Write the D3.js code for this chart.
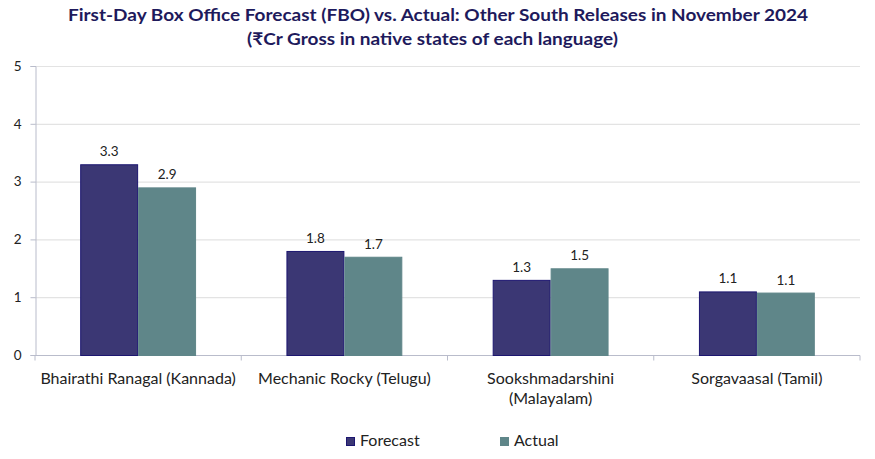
<!DOCTYPE html>
<html><head><meta charset="utf-8">
<script src="https://cdn.jsdelivr.net/npm/d3@7"></script>
<style>body{margin:0;background:#fff;} svg{display:block;font-family:Lato,"Open Sans",sans-serif;}</style>
</head><body>
<svg id="c" width="875" height="459"></svg>
<script>
const categories = [["Bhairathi Ranagal (Kannada)"],["Mechanic Rocky (Telugu)"],["Sookshmadarshini","(Malayalam)"],["Sorgavaasal (Tamil)"]];
const seriesNames = ["Forecast","Actual"];
const forecast = [3.3, 1.8, 1.3, 1.1];
const actual = [2.9, 1.7, 1.5, 1.08];
const yTicks = [0,1,2,3,4,5];
const colors = ["#3b3774","#5f8689"];
const strokes = ["#1c1670","#5f8689"];

const svg = d3.select("#c");
const mLeft = 35, mRight = 860, mTop = 66, mBottom = 355;
const x = d3.scaleBand().domain(d3.range(categories.length)).range([mLeft, mRight]);
const y = d3.scaleLinear().domain([0,5]).range([mBottom, mTop]);
const inner = d3.scaleBand().domain([0,1]).range([0, x.bandwidth()]).paddingOuter(0.78);

// title
const title = svg.append("text").attr("fill","#1e1a5c").attr("font-weight","bold").attr("font-size",17.5);
title.append("tspan").attr("x",68).attr("y",21).attr("textLength",740).attr("lengthAdjust","spacingAndGlyphs")
  .text("First-Day Box Office Forecast (FBO) vs. Actual: Other South Releases in November 2024");
title.append("tspan").attr("x",247).attr("y",45).attr("textLength",371).attr("lengthAdjust","spacingAndGlyphs")
  .text("(₹Cr Gross in native states of each language)");

// grid
svg.append("g").selectAll("line").data(yTicks.filter(d=>d>0)).join("line")
  .attr("x1",mLeft).attr("x2",mRight).attr("y1",d=>y(d)+0.5).attr("y2",d=>y(d)+0.5)
  .attr("stroke","#e3e3e3").attr("stroke-width",1.2);

// y axis
const ya = svg.append("g").attr("transform",`translate(${mLeft+0.5},0)`)
  .call(d3.axisLeft(y).tickValues(yTicks).tickSize(5).tickPadding(9).tickFormat(d3.format("d")));
ya.select(".domain").attr("stroke","#b9bccb");
ya.selectAll(".tick line").attr("stroke","#b9bccb");
ya.selectAll("text").attr("font-size",13.5).attr("fill","#222").attr("font-family","Lato,'Open Sans',sans-serif");

// x axis
const xa = svg.append("g").attr("transform",`translate(0,${mBottom+0.5})`);
xa.append("line").attr("x1",mLeft).attr("x2",mRight).attr("stroke","#b9bccb");
xa.selectAll("line.t").data(d3.range(categories.length+1)).join("line").attr("class","t")
  .attr("x1",d=>d<categories.length?x(d):mRight).attr("x2",d=>d<categories.length?x(d):mRight)
  .attr("y1",0).attr("y2",5).attr("stroke","#b9bccb");

const lbl = svg.append("g").selectAll("text").data(categories).join("text")
  .attr("text-anchor","middle").attr("font-size",16).attr("fill","#222");
lbl.each(function(d,i){
  const t=d3.select(this);
  d.forEach((s,j)=>t.append("tspan").attr("x",x(i)+x.bandwidth()/2).attr("y",384+j*20).text(s));
});

// bars
const data = [forecast, actual];
data.forEach((vals,s)=>{
  const g = svg.append("g");
  g.selectAll("rect").data(vals).join("rect")
    .attr("x",(d,i)=>x(i)+inner(s)+0.5).attr("width",inner.bandwidth()-1)
    .attr("y",d=>y(d)+0.5).attr("height",d=>mBottom-y(d))
    .attr("fill",colors[s]).attr("stroke",strokes[s]).attr("stroke-width",1);
  g.selectAll("text").data(vals).join("text")
    .attr("x",(d,i)=>x(i)+inner(s)+inner.bandwidth()/2).attr("y",d=>y(d)-8)
    .attr("text-anchor","middle").attr("font-size",13.5).attr("fill","#222")
    .text(d=>d3.format(".1f")(d));
});

// legend
const legX = [346, 500];
const lg = svg.append("g").selectAll("g").data(seriesNames).join("g")
  .attr("transform",(d,i)=>`translate(${legX[i]},446)`);
lg.append("rect").attr("x",0.5).attr("y",-8.5).attr("width",8).attr("height",8)
  .attr("fill",(d,i)=>colors[i]).attr("stroke",(d,i)=>strokes[i]);
lg.append("text").attr("x",14).attr("y",0).attr("font-size",16).attr("fill","#222").text(d=>d);
</script>
</body></html>
